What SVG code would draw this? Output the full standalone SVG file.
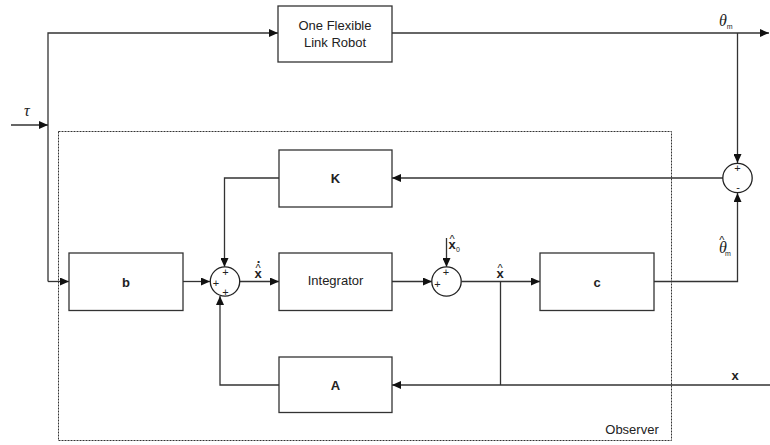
<svg xmlns="http://www.w3.org/2000/svg" width="770" height="445" viewBox="0 0 770 445">
<defs>
<marker id="ah" markerWidth="10" markerHeight="8" refX="9" refY="4" orient="auto" markerUnits="userSpaceOnUse">
<path d="M0,0 L9,4 L0,8 Z" fill="#111"/>
</marker>
<style>
.box{fill:#fff;stroke:#333;stroke-width:1.3}
.ln{fill:none;stroke:#333;stroke-width:1.3}
.sum{fill:#fff;stroke:#222;stroke-width:1.3}
.t{font-family:"Liberation Sans",Arial,sans-serif;font-size:13px;fill:#222;text-anchor:middle}
.b{font-weight:bold}
.s{font-family:"Liberation Sans",Arial,sans-serif;font-size:11px;fill:#222;text-anchor:middle}
.g{font-family:"Liberation Serif","Times New Roman",serif;font-style:italic;font-size:16px;fill:#222}
.xl{font-family:"Liberation Sans",Arial,sans-serif;font-weight:bold;font-size:13px;fill:#222}
.h{font-family:"Liberation Sans",Arial,sans-serif;font-size:11px;font-style:normal;font-weight:normal}
.sub{font-family:"Liberation Sans",Arial,sans-serif;font-size:7px;fill:#222;font-style:normal;font-weight:normal}
</style>
</defs>
<rect width="770" height="445" fill="#fff"/>
<g id="observer">
<rect x="58.5" y="131.5" width="613" height="309" fill="none" stroke="#333" stroke-width="1" stroke-dasharray="2,1"/>
<text class="t" x="632" y="434">Observer</text>
</g>
<g id="connectors">
<path class="ln" d="M11,125 H48" marker-end="url(#ah)"/>
<path class="ln" d="M48,281.5 V33 H278" marker-end="url(#ah)"/>
<path class="ln" d="M48,281.5 H69" marker-end="url(#ah)"/>
<path class="ln" d="M392,33 H769" marker-end="url(#ah)"/>
<path class="ln" d="M737.5,33 V163" marker-end="url(#ah)"/>
<path class="ln" d="M723,178 H392" marker-end="url(#ah)"/>
<path class="ln" d="M279,178 H224.5 V267" marker-end="url(#ah)"/>
<path class="ln" d="M183,281.5 H210" marker-end="url(#ah)"/>
<path class="ln" d="M240,281.5 H279" marker-end="url(#ah)"/>
<path class="ln" d="M392,281.5 H432" marker-end="url(#ah)"/>
<path class="ln" d="M446.5,238 V267" marker-end="url(#ah)"/>
<path class="ln" d="M461.5,281.5 H540" marker-end="url(#ah)"/>
<path class="ln" d="M500.5,281.5 V385"/>
<path class="ln" d="M654,281.5 H737.5 V193" marker-end="url(#ah)"/>
<path class="ln" d="M770,385 H392" marker-end="url(#ah)"/>
<path class="ln" d="M279,385 H220 V296" marker-end="url(#ah)"/>
</g>
<g id="robot">
<rect class="box" x="278" y="6" width="114" height="56"/>
<text class="t" x="335" y="30">One Flexible</text>
<text class="t" x="335" y="47">Link Robot</text>
</g>
<g id="K">
<rect class="box" x="279" y="150" width="113" height="57"/>
<text class="t b" x="335.5" y="183">K</text>
</g>
<g id="b">
<rect class="box" x="69" y="253" width="114" height="57.5"/>
<text class="t b" x="126" y="287">b</text>
</g>
<g id="integrator">
<rect class="box" x="279" y="253" width="113" height="57.5"/>
<text class="t" x="335.5" y="285">Integrator</text>
</g>
<g id="c">
<rect class="box" x="540" y="253" width="114" height="57.5"/>
<text class="t b" x="597" y="287">c</text>
</g>
<g id="A">
<rect class="box" x="279" y="357" width="113" height="55.5"/>
<text class="t b" x="335.5" y="390">A</text>
</g>
<g id="sum1">
<circle class="sum" cx="225" cy="281.5" r="14.7"/>
<text class="s" x="225.5" y="275.5">+</text>
<text class="s" x="216" y="287">+</text>
<text class="s" x="225.5" y="295.5">+</text>
</g>
<g id="sum2">
<circle class="sum" cx="446.5" cy="281.5" r="14.7"/>
<text class="s" x="446" y="275.5">+</text>
<text class="s" x="437.5" y="288">+</text>
</g>
<g id="sum3">
<circle class="sum" cx="737.5" cy="178" r="14.7"/>
<text class="s" x="737.5" y="172">+</text>
<text class="s" x="738" y="191">-</text>
</g>
<g id="labels">
<text class="g" x="24" y="116">τ</text>
<text class="g" x="719" y="26">θ<tspan class="sub" dy="3">m</tspan></text>
<text class="g" x="719" y="253">θ<tspan class="h" font-size="14" dx="-7.5" dy="-9">^</tspan><tspan class="sub" dx="0.5" dy="12">m</tspan></text>
<text class="xl" x="254.5" y="278">x<tspan class="h" dx="-6.2" dy="-6">^</tspan><tspan class="xl" dx="-4" dy="-9.5">.</tspan></text>
<text class="xl" x="496.5" y="278">x<tspan class="h" dx="-6.2" dy="-6">^</tspan></text>
<text class="xl" x="448.5" y="249">x<tspan class="h" dx="-6.2" dy="-6">^</tspan><tspan class="sub" dx="1.3" dy="9">0</tspan></text>
<text class="t b" x="735" y="380">x</text>
</g>
</svg>
